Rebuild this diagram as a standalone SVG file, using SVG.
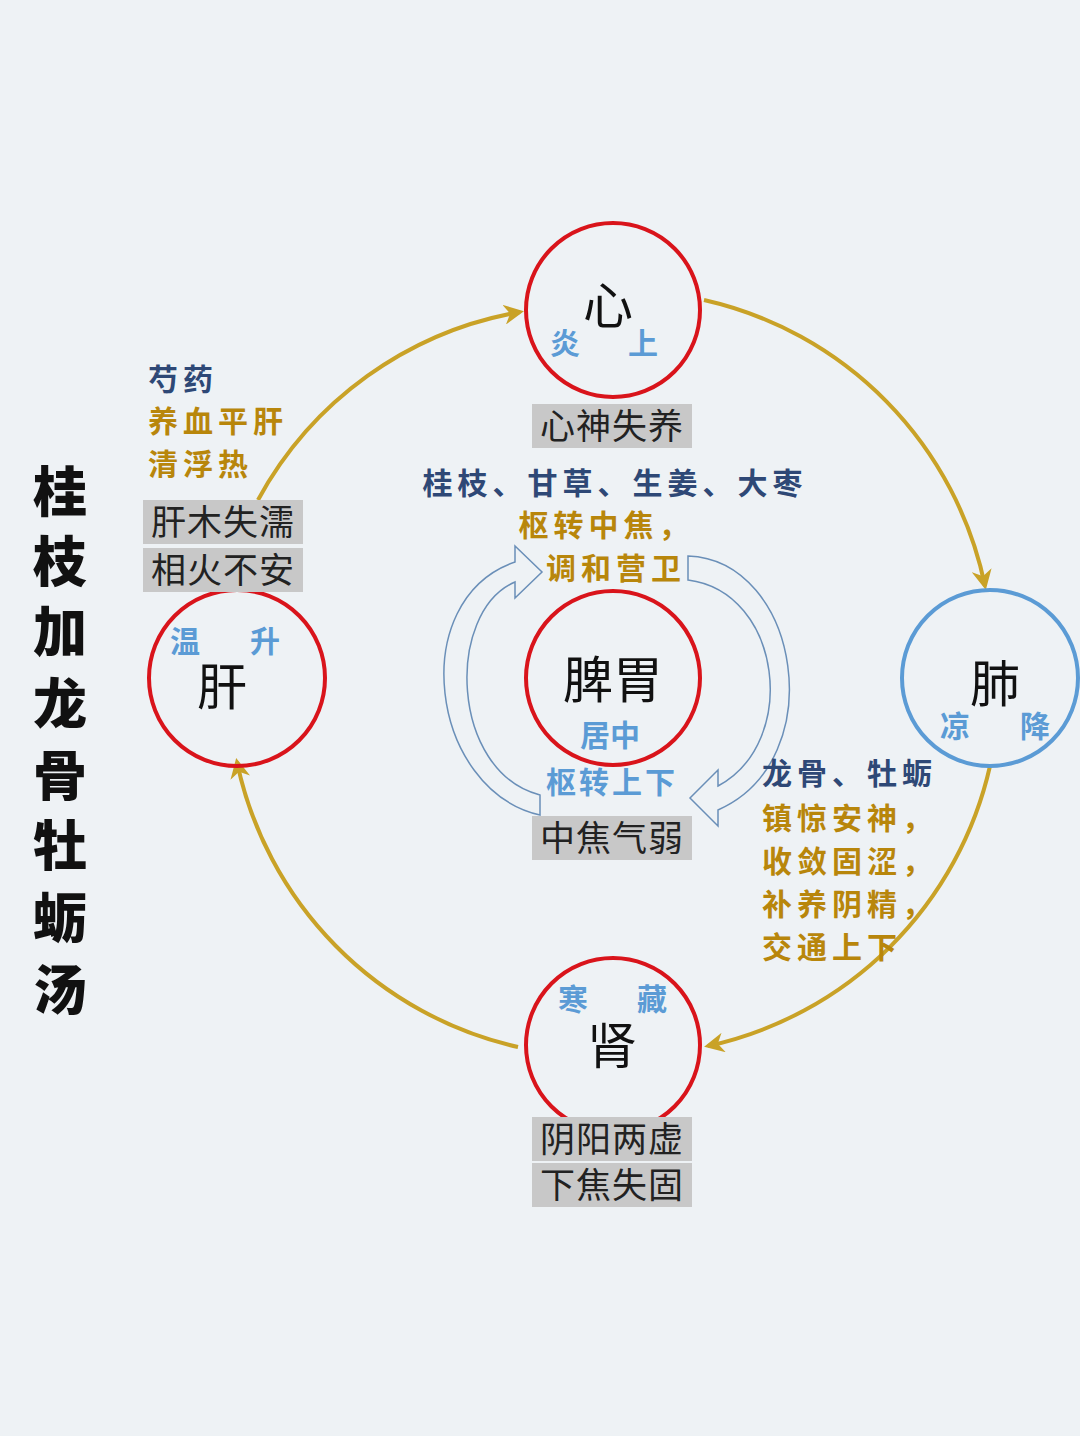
<svg xmlns="http://www.w3.org/2000/svg" width="1080" height="1436" viewBox="0 0 1080 1436">
<style>
text{font-family:"Noto Sans CJK SC","Noto Sans CJK TC",sans-serif;text-anchor:middle}
.ring{fill:none;stroke:#d9141b;stroke-width:4}
.blue-ring{fill:none;stroke:#5b9bd5;stroke-width:4}
.cyc{fill:none;stroke:#c9a227;stroke-width:4;marker-end:url(#ah)}
.big{font-size:50px;fill:#111}
.dir{font-size:30px;fill:#5b9bd5;font-weight:700}
.box{fill:#c8c8c8}
.bt{font-size:35px;fill:#222;letter-spacing:1px}
.navy{font-size:30px;fill:#2e4876;font-weight:700;letter-spacing:5px}
.gold{font-size:30px;fill:#b8860b;font-weight:700;letter-spacing:5px}
.hollow{fill:none;stroke:#6a8fb8;stroke-width:1.5}
.title{font-size:54px;fill:#111;font-weight:900}
</style>
<defs>
<marker id="ah" viewBox="0 0 10 10" refX="8" refY="5" markerWidth="5" markerHeight="5" orient="auto"><path d="M0,0 L10,5 L0,10 L3,5 Z" fill="#c9a227"/></marker>
</defs>
<rect width="1080" height="1436" fill="#eef2f5"/>
<g id="connectors">
<path class="cyc" d="M258,500 A370,370 0 0 1 520,312"/>
<path class="cyc" d="M704,300 A370,370 0 0 1 985,586"/>
<path class="cyc" d="M990,766 A370,370 0 0 1 708,1046"/>
<path class="cyc" d="M518,1047 A370,370 0 0 1 237,762"/>
<path class="hollow" d="M540,815 C430,790 405,600 515,562 L515,546 L542,572 L515,598 L515,582 C445,612 450,772 540,795 Z"/>
<path class="hollow" d="M688,556 C800,560 832,760 718,810 L718,826 L690,798 L718,770 L718,786 C800,742 782,592 688,580 Z"/>
</g>
<g id="title">
<text class="title" x="60" y="512">桂</text>
<text class="title" x="60" y="582">枝</text>
<text class="title" x="60" y="652">加</text>
<text class="title" x="60" y="724">龙</text>
<text class="title" x="60" y="796">骨</text>
<text class="title" x="60" y="866">牡</text>
<text class="title" x="60" y="938">蛎</text>
<text class="title" x="60" y="1010">汤</text>
</g>
<g id="heart">
<circle class="ring" cx="613" cy="310" r="87"/>
<text class="big" x="608" y="324" font-size="46">心</text>
<text class="dir" x="565" y="354">炎</text>
<text class="dir" x="643" y="354">上</text>
<rect class="box" x="532" y="404" width="160" height="44"/>
<text class="bt" x="612" y="439">心神失养</text>
</g>
<g id="spleen">
<circle class="ring" cx="613" cy="678" r="87"/>
<text class="navy" x="615" y="494">桂枝、甘草、生姜、大枣</text>
<text class="gold" x="606" y="536">枢转中焦，</text>
<text class="gold" x="616" y="579">调和营卫</text>
<text class="big" x="613" y="698" font-size="54">脾胃</text>
<text class="dir" x="610" y="746">居中</text>
<text class="dir" x="612" y="793" style="letter-spacing:3px">枢转上下</text>
<rect class="box" x="532" y="816" width="160" height="44"/>
<text class="bt" x="612" y="851">中焦气弱</text>
</g>
<g id="liver">
<circle class="ring" cx="237" cy="678" r="88"/>
<text class="dir" x="185" y="652">温</text>
<text class="dir" x="265" y="652">升</text>
<text class="big" x="222" y="705">肝</text>
<text class="navy" x="148" y="390" style="text-anchor:start">芍药</text>
<text class="gold" x="148" y="432" style="text-anchor:start">养血平肝</text>
<text class="gold" x="148" y="475" style="text-anchor:start">清浮热</text>
<rect class="box" x="143" y="500" width="160" height="44"/>
<rect class="box" x="143" y="548" width="160" height="44"/>
<text class="bt" x="223" y="535">肝木失濡</text>
<text class="bt" x="223" y="583">相火不安</text>
</g>
<g id="lung">
<circle class="blue-ring" cx="990" cy="678" r="88"/>
<text class="big" x="995" y="702">肺</text>
<text class="dir" x="955" y="737">凉</text>
<text class="dir" x="1035" y="737">降</text>
<text class="navy" x="762" y="784" style="text-anchor:start">龙骨、牡蛎</text>
<text class="gold" x="762" y="829" style="text-anchor:start">镇惊安神，</text>
<text class="gold" x="762" y="872" style="text-anchor:start">收敛固涩，</text>
<text class="gold" x="762" y="915" style="text-anchor:start">补养阴精，</text>
<text class="gold" x="762" y="958" style="text-anchor:start">交通上下</text>
</g>
<g id="kidney">
<circle class="ring" cx="613" cy="1045" r="87"/>
<text class="dir" x="573" y="1010">寒</text>
<text class="dir" x="652" y="1010">藏</text>
<text class="big" x="612" y="1064">肾</text>
<rect class="box" x="532" y="1117" width="160" height="44"/>
<rect class="box" x="532" y="1163" width="160" height="44"/>
<text class="bt" x="612" y="1152">阴阳两虚</text>
<text class="bt" x="612" y="1198">下焦失固</text>
</g>
</svg>
